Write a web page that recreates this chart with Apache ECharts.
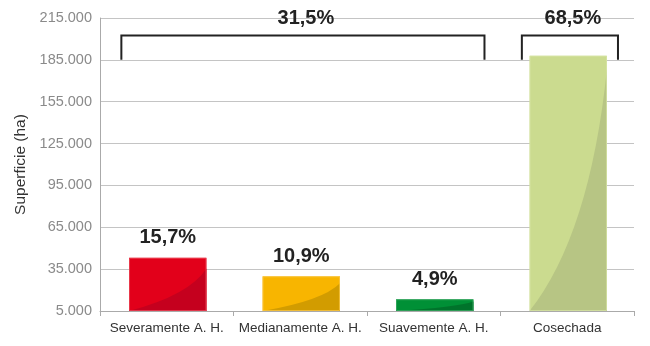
<!DOCTYPE html>
<html><head><meta charset="utf-8">
<script src="https://cdn.jsdelivr.net/npm/echarts@6/dist/echarts.min.js"></script>
<style>html,body{margin:0;padding:0;background:#fff}#c{width:650px;height:346px}</style>
</head><body><div id="c"></div>
<script>
const categories = ['Severamente A. H.', 'Medianamente A. H.', 'Suavemente A. H.', 'Cosechada'];
const values = [43100, 29900, 13400, 188000];
const barLabels = ['15,7%', '10,9%', '4,9%', ''];
const barColors = ['#E2001A', '#F8B500', '#009036', '#CBDB8F'];
const shadeColors = ['#C5001E', '#D29C00', '#00732B', '#B7C584'];
const edgeColors = ['#EC5060', '#FBCB50', '#40AC68', '#D8E5A8'];
const groupStart = [0, 3];
const groupEnd = [2, 3];
const groupLabels = ['31,5%', '68,5%'];
const bracketTop = 202500;
const bracketLeg = 185000;
const yMin = 5000, yMax = 215000, yStep = 30000;

const fmt = v => String(Math.round(v)).replace(/\B(?=(\d{3})+(?!\d))/g, '.');
const font = '"Liberation Sans", Arial, Helvetica, sans-serif';

const chart = echarts.init(document.getElementById('c'), null, {renderer: 'canvas'});
chart.setOption({
  animation: false,
  grid: {left: 100, right: 16, top: 18, bottom: 35},
  xAxis: {
    type: 'category', data: categories,
    axisLine: {lineStyle: {color: '#aaa'}},
    axisTick: {show: true, length: 5, interval: 0, lineStyle: {color: '#aaa'}},
    axisLabel: {color: '#333', fontSize: 13.5, fontFamily: font, margin: 10, interval: 0}
  },
  yAxis: {
    type: 'value', min: yMin, max: yMax, interval: yStep,
    name: 'Superficie (ha)', nameLocation: 'middle', nameGap: 71,
    nameTextStyle: {color: '#333', fontSize: 15.5, fontFamily: font},
    axisLine: {show: true, lineStyle: {color: '#aaa'}},
    axisTick: {show: false},
    splitLine: {lineStyle: {color: '#c4c4c4'}},
    axisLabel: {color: '#8a8a8a', fontSize: 14.5, fontFamily: font, margin: 8, formatter: fmt}
  },
  series: [
    {
      type: 'custom',
      data: values.map((v, i) => [i, v]),
      encode: {x: 0, y: 1},
      renderItem: function (params, api) {
        const i = api.value(0), v = api.value(1);
        const top = api.coord([i, v]);
        const base = api.coord([i, yMin]);
        const w = api.size([1, 0])[0] * 0.58;
        const x0 = top[0] - w / 2 + 1, x1 = top[0] + w / 2 + 1;
        const yT = top[1], yB = base[1], h = yB - yT;
        const yE = yT + Math.min(h * 0.2, 13);
        const cx = x0 + w * 0.78, cy = yB - h * 0.3;
        const children = [
          {type: 'rect', shape: {x: x0, y: yT, width: w, height: h}, style: {fill: barColors[i]}},
          {type: 'path', shape: {pathData: `M${x0} ${yB} Q${cx} ${cy} ${x1} ${yE} L${x1} ${yB} Z`}, style: {fill: shadeColors[i]}},
          {type: 'rect', shape: {x: x0 + 0.5, y: yT + 0.5, width: w - 1, height: h - 1}, style: {fill: null, stroke: edgeColors[i], lineWidth: 1, opacity: 0.7}}
        ];
        if (barLabels[i]) {
          children.push({type: 'text', x: top[0] + 1, y: yT - 20,
            style: {text: barLabels[i], fill: '#222', font: 'bold 20px ' + font, align: 'center', verticalAlign: 'middle'}});
        }
        return {type: 'group', children: children};
      }
    },
    {
      type: 'custom',
      data: groupStart.map((s, k) => [s, groupEnd[k], bracketTop, bracketLeg]),
      encode: {x: [0, 1], y: [2, 3]},
      renderItem: function (params, api) {
        const k = params.dataIndex;
        const s = api.value(0), e = api.value(1);
        const bw = api.size([1, 0])[0];
        const pS = api.coord([s, api.value(2)]);
        const pE = api.coord([e, api.value(3)]);
        const xl = pS[0] - bw * 0.34, xr = pE[0] + bw * 0.38;
        const yt = pS[1], yb = pE[1];
        return {type: 'group', children: [
          {type: 'polyline', shape: {points: [[xl, yb], [xl, yt], [xr, yt], [xr, yb]]},
            style: {stroke: '#222', lineWidth: 2, fill: null}},
          {type: 'text', x: (xl + xr) / 2 + 3, y: yt - 17,
            style: {text: groupLabels[k], fill: '#222', font: 'bold 20px ' + font, align: 'center', verticalAlign: 'middle'}}
        ]};
      }
    }
  ]
});
</script></body></html>
